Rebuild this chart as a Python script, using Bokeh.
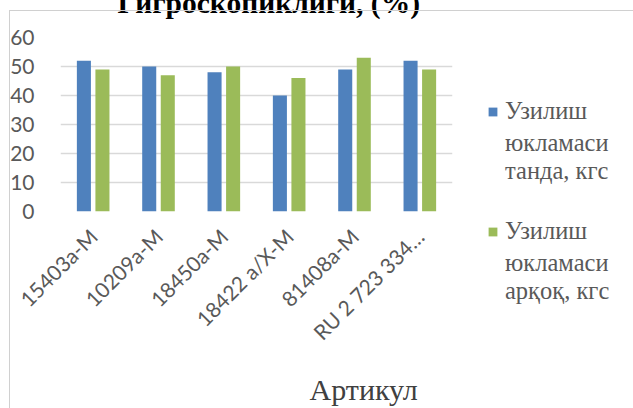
from bokeh.plotting import figure
from bokeh.models import (FactorRange, Range1d, Legend, LegendItem, Title,
                          FixedTicker)
from bokeh.transform import dodge
from bokeh.embed import file_html
from bokeh.resources import INLINE
from math import pi

# --- data ---------------------------------------------------------------
articles = ["15403а-М", "10209а-М", "18450а-М", "18422 а/Х-М", "81408а-М",
            "RU 2 723 334…"]
warp_load = [52, 50, 48, 40, 49, 52]      # танда, кгс
weft_load = [49, 47, 50, 46, 53, 49]      # арқоқ, кгс
series_head = ["Узилиш", "Узилиш"]
series_tail = ["юкламаси\nтанда, кгс\n\u00a0", "юкламаси\nарқоқ, кгс"]
y_ticks = [0, 10, 20, 30, 40, 50, 60]
title_text = "Гигроскопиклиги, (%)"
x_title = "Артикул"

BLUE = "#4f81bd"
GREEN = "#9bbb59"
GRID = "#d9d9d9"
TICK_TXT = "#595959"
SHIFT = 40          # canvas rows kept above the visible page (title overflow)

p = figure(frame_width=392, frame_height=174, output_backend="svg",
           toolbar_location=None,
           x_range=FactorRange(factors=articles, range_padding=0),
           y_range=Range1d(0, 60),
           min_border_left=60, min_border_right=181,
           min_border_top=37 + SHIFT, min_border_bottom=197,
           background_fill_color="white", border_fill_color="white")
p.outline_line_color = None

src = dict(cat=articles, warp=warp_load, weft=weft_load)
rb = p.vbar(x=dodge("cat", -0.142, range=p.x_range), top="warp", width=0.215,
            source=src, fill_color=BLUE, line_color=None)
rg = p.vbar(x=dodge("cat", 0.142, range=p.x_range), top="weft", width=0.215,
            source=src, fill_color=GREEN, line_color=None)
# swatch-less renderer for the wrapped lines of the legend entries
blank = p.vbar(x=[], top=[], width=0.2, fill_alpha=0, line_alpha=0)

# axes
p.yaxis.ticker = FixedTicker(ticks=y_ticks)
p.yaxis.axis_line_color = None
p.yaxis.major_tick_line_color = None
p.yaxis.minor_tick_line_color = None
p.yaxis.major_label_standoff = 20
p.yaxis.major_label_text_font = "Lato"
p.yaxis.major_label_text_font_size = "21px"
p.yaxis.major_label_text_color = TICK_TXT

p.xaxis.axis_line_color = None
p.xaxis.major_tick_line_color = None
p.xaxis.major_label_orientation = pi / 4
p.xaxis.major_label_standoff = 15
p.xaxis.major_label_text_font = "Lato"
p.xaxis.major_label_text_font_size = "21px"
p.xaxis.major_label_text_color = TICK_TXT

p.xgrid.grid_line_color = None
p.ygrid.grid_line_color = GRID
p.ygrid.grid_line_width = 1.5

# chart title (its top runs off the page)
p.title.text = title_text
p.title.align = "left"
p.title.offset = 57
p.title.standoff = 38
p.title.text_font = "Liberation Serif"
p.title.text_font_style = "bold"
p.title.text_font_size = "29.5px"
p.title.text_color = "black"

# category axis title
p.add_layout(Title(text=x_title, align="left", offset=249, standoff=29,
                   text_font="Liberation Serif", text_font_style="normal",
                   text_font_size="30px", text_color="#404040"), "below")

# legend
legend = Legend(items=[LegendItem(label=series_head[0], renderers=[rb]),
                       LegendItem(label=series_tail[0], renderers=[blank]),
                       LegendItem(label=series_head[1], renderers=[rg]),
                       LegendItem(label=series_tail[1], renderers=[blank])],
                location=(35, -94), orientation="vertical",
                glyph_width=11, glyph_height=11, label_standoff=7,
                spacing=4, padding=0, margin=0, label_height=11,
                border_line_color=None, background_fill_alpha=0,
                label_text_font="Liberation Serif",
                label_text_font_size="24.5px", label_text_color=TICK_TXT,
                label_text_line_height=1.12)
p.add_layout(legend, "right")

# page placement and the chart-area border (left and top edges)
p.styles = {"margin-top": f"-{SHIFT}px", "position": "relative"}
p.stylesheets = [f""":host::after {{
    content: ""; position: absolute; pointer-events: none;
    left: 9px; top: {SHIFT + 10}px; right: 0; bottom: 0;
    border-left: 1px solid #d0d0d0; border-top: 1px solid #d0d0d0;
}}"""]

open("out.html", "w").write(file_html(p, INLINE))
